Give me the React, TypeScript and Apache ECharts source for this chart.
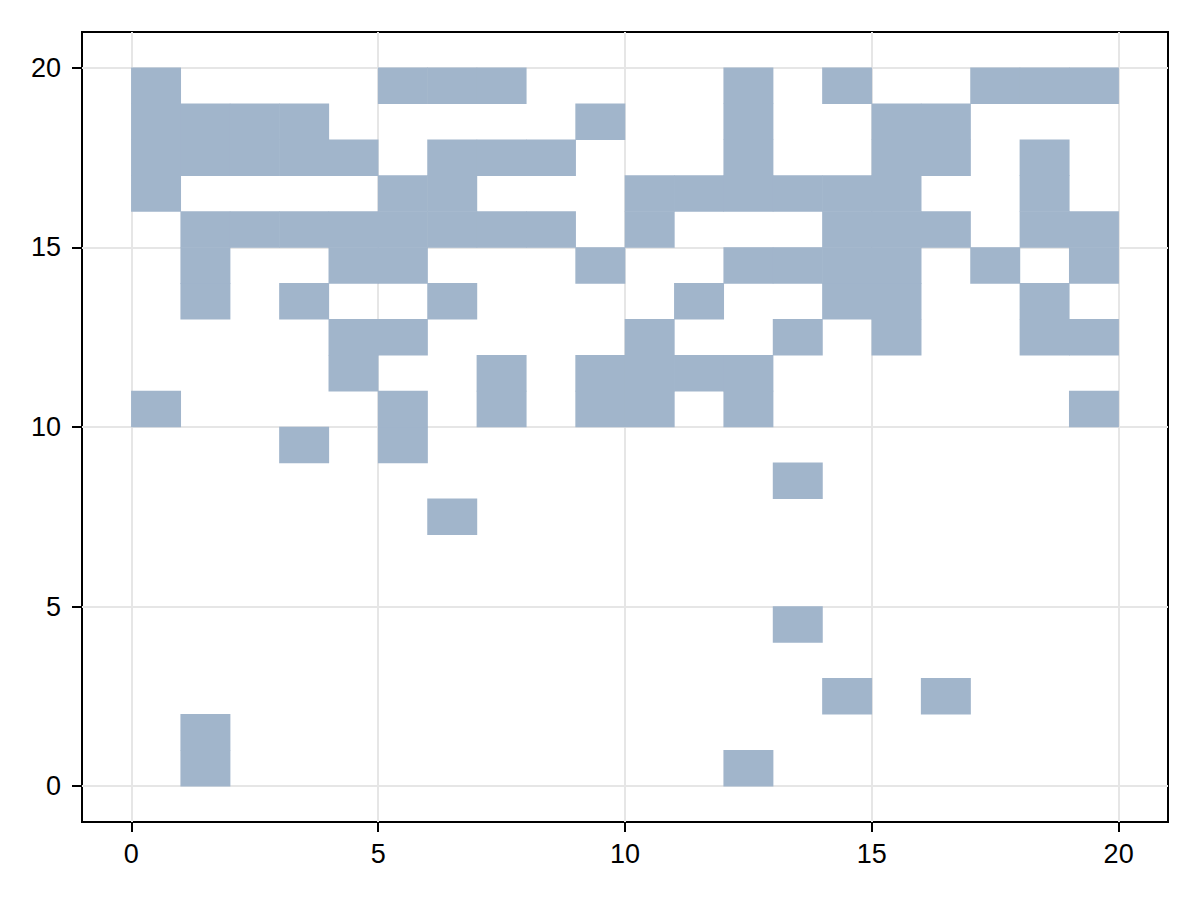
import React, { useEffect, useRef } from "react";
import * as echarts from "echarts";

// Filled cells: for each row j (0..19), the column indices i whose cell [i,i+1]x[j,j+1] is filled
const rowIndices: number[] = [0, 1, 2, 3, 4, 5, 6, 7, 8, 9, 10, 11, 12, 13, 14, 15, 16, 17, 18, 19];
const filledColumns: number[][] = [
  [1, 12],
  [1],
  [14, 16],
  [],
  [13],
  [],
  [],
  [6],
  [13],
  [3, 5],
  [0, 5, 7, 9, 10, 12, 19],
  [4, 7, 9, 10, 11, 12],
  [4, 5, 10, 13, 15, 18, 19],
  [1, 3, 6, 11, 14, 15, 18],
  [1, 4, 5, 9, 12, 13, 14, 15, 17, 19],
  [1, 2, 3, 4, 5, 6, 7, 8, 10, 14, 15, 16, 18, 19],
  [0, 5, 6, 10, 11, 12, 13, 14, 15, 18],
  [0, 1, 2, 3, 4, 6, 7, 8, 12, 15, 16, 18],
  [0, 1, 2, 3, 9, 12, 15, 16],
  [0, 5, 6, 7, 12, 14, 17, 18, 19],
];
const tickValues: number[] = [0, 5, 10, 15, 20];
const axisMin = -1;
const axisMax = 21;

export default function App() {
  const ref = useRef<HTMLDivElement>(null);

  useEffect(() => {
    if (!ref.current) return;
    const chart = echarts.init(ref.current, undefined, { renderer: "svg" });

    const cells: number[][] = [];
    rowIndices.forEach((j) => {
      filledColumns[j].forEach((i) => cells.push([i, j]));
    });

    const axisCommon = {
      type: "value" as const,
      min: axisMin,
      max: axisMax,
      splitNumber: 5,
      axisLine: { show: false, onZero: false },
      axisTick: {
        show: true,
        inside: false,
        length: 10,
        customValues: tickValues,
        lineStyle: { color: "#000", width: 2 },
      },
      splitLine: { show: true, lineStyle: { color: "#e6e6e6", width: 2 } },
    };

    chart.setOption({
      animation: false,
      backgroundColor: "#ffffff",
      grid: {
        left: 82,
        right: 32,
        top: 32,
        bottom: 78,
        show: true,
        borderColor: "#000",
        borderWidth: 2,
        backgroundColor: "transparent",
      },
      xAxis: {
        ...axisCommon,
        position: "bottom",
        axisLabel: {
          customValues: tickValues,
          fontSize: 27,
          color: "#000",
          margin: 18,
          fontFamily: "Liberation Sans, Arial, sans-serif",
        },
      },
      yAxis: {
        ...axisCommon,
        position: "left",
        axisLabel: {
          customValues: tickValues,
          fontSize: 27,
          color: "#000",
          margin: 21,
          fontFamily: "Liberation Sans, Arial, sans-serif",
        },
      },
      series: [
        {
          type: "custom",
          data: cells,
          encode: { x: 0, y: 1 },
          renderItem: (params: any, api: any) => {
            const i = api.value(0);
            const j = api.value(1);
            const p0 = api.coord([i, j + 1]);
            const p1 = api.coord([i + 1, j]);
            return {
              type: "rect",
              shape: {
                x: p0[0] - 0.3,
                y: p0[1] - 0.3,
                width: p1[0] - p0[0] + 0.6,
                height: p1[1] - p0[1] + 0.6,
              },
              style: { fill: "#a1b5cb" },
            };
          },
        },
      ],
    });

    return () => chart.dispose();
  }, []);

  return (
    <div
      ref={ref}
      style={{ position: "absolute", left: 0, top: 0, width: 1200, height: 900 }}
    />
  );
}
